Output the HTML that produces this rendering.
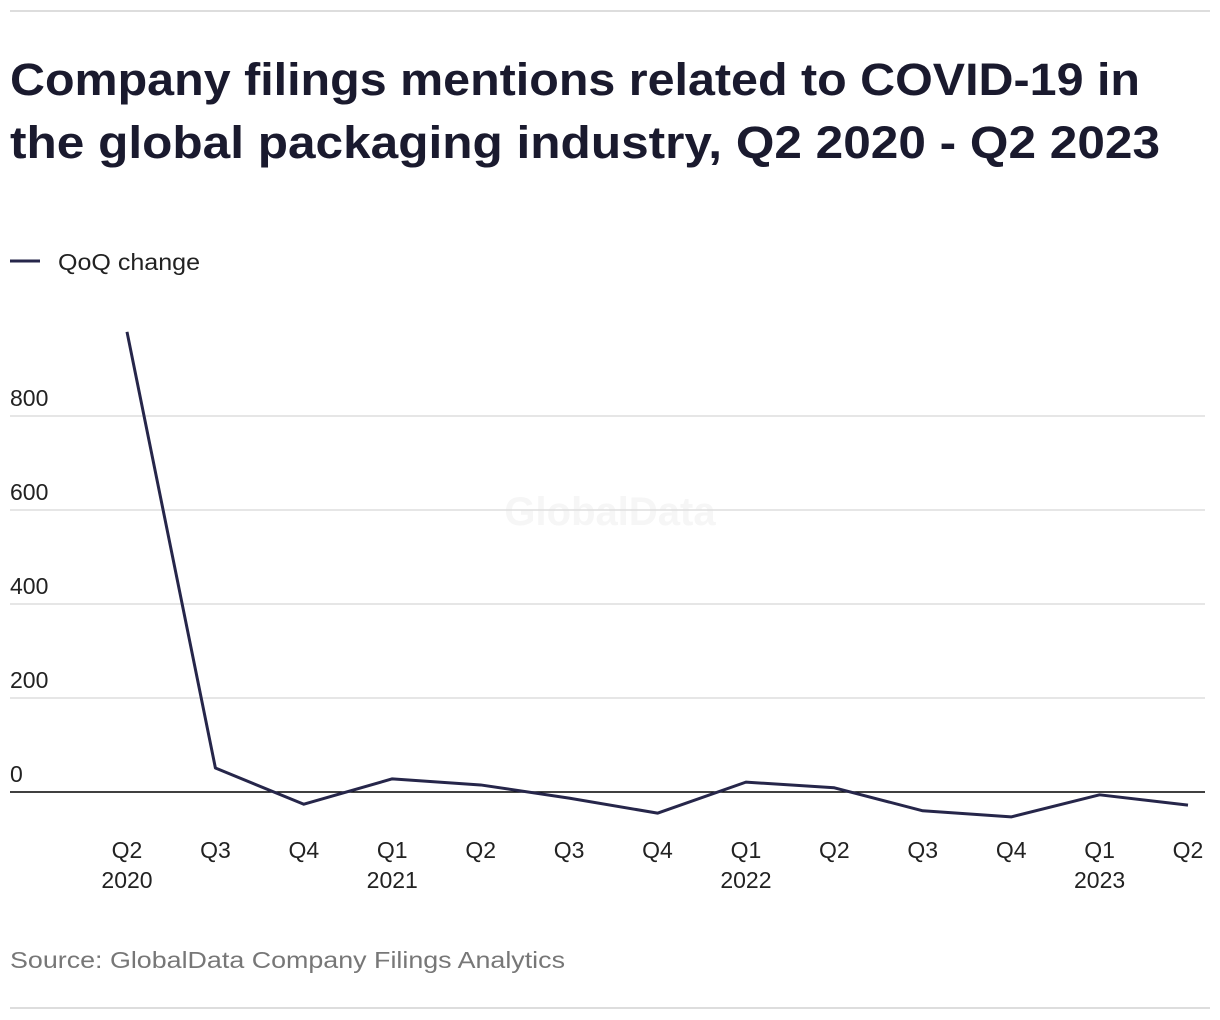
<!DOCTYPE html>
<html><head><meta charset="utf-8"><style>
body{margin:0;background:#fff;font-family:"Liberation Sans",sans-serif;}
svg{display:block}
</style></head><body>
<svg width="1220" height="1020">
<line x1="10" y1="11" x2="1210" y2="11" stroke="#ddd" stroke-width="2"/>
<text x="10" y="95" font-size="45" font-weight="bold" fill="#1a1a2e" textLength="1130" lengthAdjust="spacingAndGlyphs">Company filings mentions related to COVID-19 in</text>
<text x="10" y="158" font-size="45" font-weight="bold" fill="#1a1a2e" textLength="1150" lengthAdjust="spacingAndGlyphs">the global packaging industry, Q2 2020 - Q2 2023</text>
<line x1="10" y1="261" x2="40" y2="261" stroke="#26264a" stroke-width="3"/>
<text x="58" y="270" font-size="23" fill="#222" textLength="142" lengthAdjust="spacingAndGlyphs">QoQ change</text>
<text x="610" y="525" font-size="40" font-weight="bold" fill="#f6f6f6" text-anchor="middle">GlobalData</text>
<g id="grid"></g><g id="xl"></g>
<path id="line" fill="none" stroke="#26264a" stroke-width="3" stroke-linejoin="round"/>
<text x="10" y="968" font-size="23" fill="#777" textLength="555" lengthAdjust="spacingAndGlyphs">Source: GlobalData Company Filings Analytics</text>
<line x1="10" y1="1008" x2="1210" y2="1008" stroke="#ddd" stroke-width="2"/>
</svg>
<script>
const quarters=["Q2","Q3","Q4","Q1","Q2","Q3","Q4","Q1","Q2","Q3","Q4","Q1","Q2"];
const years=["2020","","","2021","","","","2022","","","","2023",""];
const values=[979,51,-26,28,15,-13,-45,21,9,-40,-53,-6,-28];
const yTicks=[0,200,400,600,800];
const NS="http://www.w3.org/2000/svg";
const x=i=>127+i*(1188-127)/(quarters.length-1);
const y=v=>792-v*0.47;
const g=document.getElementById('grid'),xl=document.getElementById('xl');
function mk(t,a,p){const e=document.createElementNS(NS,t);for(const k in a)e.setAttribute(k,a[k]);p.appendChild(e);return e;}
yTicks.forEach(v=>{
 const l=mk('line',{x1:10,x2:1205,y1:y(v),y2:y(v),stroke:v===0?'#000':'#ddd','stroke-width':1.5},g);
 
 
 const t=mk('text',{x:10,y:y(v)-10,'font-size':23,fill:'#222'},g);t.textContent=v;
 
 
});
quarters.forEach((q,i)=>{
 const t=mk('text',{x:x(i),y:858,'font-size':23,fill:'#222','text-anchor':'middle'},xl);t.textContent=q;
 
 
 if(years[i]){const u=mk('text',{x:x(i),y:888,'font-size':23,fill:'#222','text-anchor':'middle'},xl);u.textContent=years[i];
 
 }
});
document.getElementById('line').setAttribute('d',values.map((v,i)=>(i?'L':'M')+x(i)+','+y(v)).join(''));
</script>
</body></html>
